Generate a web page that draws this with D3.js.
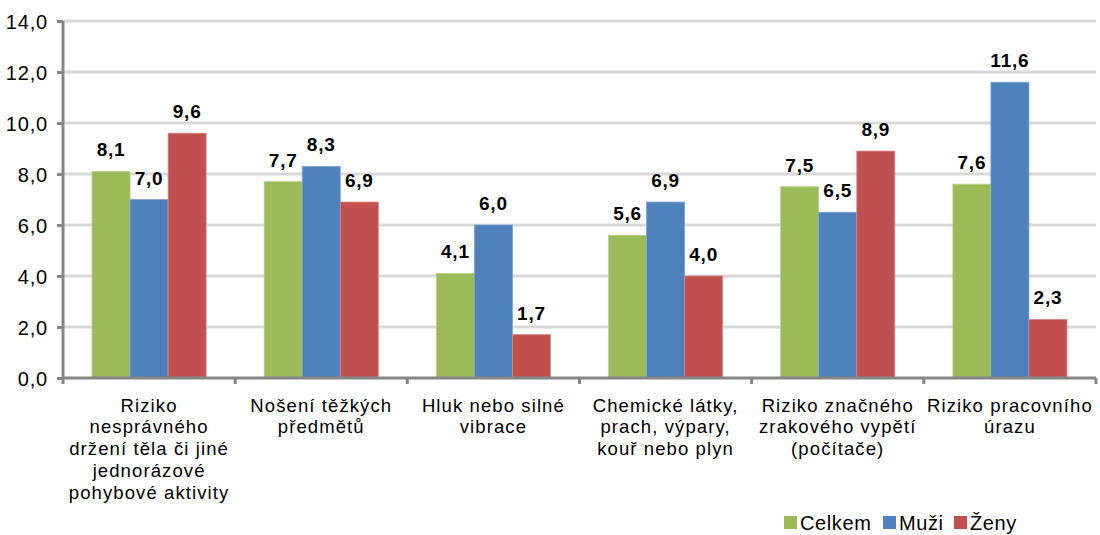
<!DOCTYPE html>
<html><head><meta charset="utf-8">
<script src="https://cdn.jsdelivr.net/npm/d3@7"></script>
<style>
body{margin:0;background:#fff;}
text{font-family:"Liberation Sans",Arial,sans-serif;fill:#000;}
</style></head>
<body><svg id="c" width="1100" height="535"></svg>
<script>
const categories = [
  ["Riziko","nesprávného","držení těla či jiné","jednorázové","pohybové aktivity"],
  ["Nošení těžkých","předmětů"],
  ["Hluk nebo silné","vibrace"],
  ["Chemické látky,","prach, výpary,","kouř nebo plyn"],
  ["Riziko značného","zrakového vypětí","(počítače)"],
  ["Riziko pracovního","úrazu"]
];
const seriesNames = ["Celkem","Muži","Ženy"];
const celkem = [8.1, 7.7, 4.1, 5.6, 7.5, 7.6];
const muzi   = [7.0, 8.3, 6.0, 6.9, 6.5, 11.6];
const zeny   = [9.6, 6.9, 1.7, 4.0, 8.9, 2.3];
const yTicks = [0, 2, 4, 6, 8, 10, 12, 14];
const colors = ["#9BBB59","#4F81BD","#C0504D"];
const strokes = ["#b9d08a","#7ea3d3","#d98a88"];

const svg = d3.select("#c");
const pL = 63, pR = 1096, pT = 21, pB = 378;
const fmt = v => d3.format(".1f")(v).replace(".", ",");
const series = [celkem, muzi, zeny];

const x0 = d3.scaleBand().domain(d3.range(categories.length)).range([pL, pR]).paddingInner(0).paddingOuter(0);
const x1 = d3.scaleBand().domain(d3.range(seriesNames.length)).range([0, x0.bandwidth()]).paddingInner(0).paddingOuter(0.763);
const y = d3.scaleLinear().domain([0, 14]).range([pB, pT]);

// gridlines
svg.append("g").selectAll("line").data(yTicks.filter(d => d > 0)).join("line")
  .attr("x1", pL).attr("x2", pR).attr("y1", d => y(d)).attr("y2", d => y(d))
  .attr("stroke", "#d9d9d9").attr("stroke-width", 3);

// bars
const g = svg.append("g");
categories.forEach((c, i) => {
  series.forEach((s, j) => {
    g.append("rect")
      .attr("x", x0(i) + x1(j)).attr("y", y(s[i]))
      .attr("width", x1.bandwidth()).attr("height", y(0) - y(s[i]))
      .attr("fill", colors[j]).attr("stroke", strokes[j]).attr("stroke-width", 0.8);
    g.append("text")
      .attr("x", x0(i) + x1(j) + x1.bandwidth() / 2).attr("y", y(s[i]) - 15)
      .attr("text-anchor", "middle").attr("font-weight", "bold")
      .attr("font-size", "19px").attr("letter-spacing", "0.8px")
      .text(fmt(s[i]));
  });
});

// y axis
const yAxis = d3.axisLeft(y).tickValues(yTicks).tickFormat(fmt).tickSize(6).tickPadding(9);
const ya = svg.append("g").attr("transform", `translate(${pL},0)`).call(yAxis);
ya.select(".domain").attr("stroke", "#868686").attr("stroke-width", 3).attr("d", `M0,${pB}V${pT}`);
ya.selectAll(".tick line").attr("stroke", "#868686").attr("stroke-width", 3);
ya.selectAll(".tick text").attr("font-size", "20px").attr("font-family", "Liberation Sans, Arial, sans-serif")
  .attr("fill", "#000").attr("dy", "0.35em").attr("letter-spacing", "0.8px");

// x axis
const xa = svg.append("g");
xa.append("line").attr("x1", pL).attr("x2", pR).attr("y1", pB).attr("y2", pB)
  .attr("stroke", "#868686").attr("stroke-width", 3);
const boundaries = d3.range(categories.length + 1).map(i => i < categories.length ? x0(i) : pR);
xa.selectAll("line.tk").data(boundaries).join("line").attr("class", "tk")
  .attr("x1", d => d).attr("x2", d => d).attr("y1", pB).attr("y2", pB + 6)
  .attr("stroke", "#868686").attr("stroke-width", 3);

categories.forEach((lines, i) => {
  const t = xa.append("text").attr("text-anchor", "middle").attr("font-size", "18.5px").attr("letter-spacing", "1.1px");
  lines.forEach((ln, k) => {
    t.append("tspan").attr("x", x0(i) + x0.bandwidth() / 2).attr("y", 411.5 + k * 21.8).text(ln);
  });
});

// legend
const legX = [784, 883, 954];
const lg = svg.append("g");
seriesNames.forEach((n, j) => {
  lg.append("rect").attr("x", legX[j]).attr("y", 516).attr("width", 13).attr("height", 13).attr("fill", colors[j]);
  lg.append("text").attr("x", legX[j] + 16).attr("y", 529.5).attr("font-size", "20px").attr("letter-spacing", "0.6px").text(n);
});
</script></body></html>
